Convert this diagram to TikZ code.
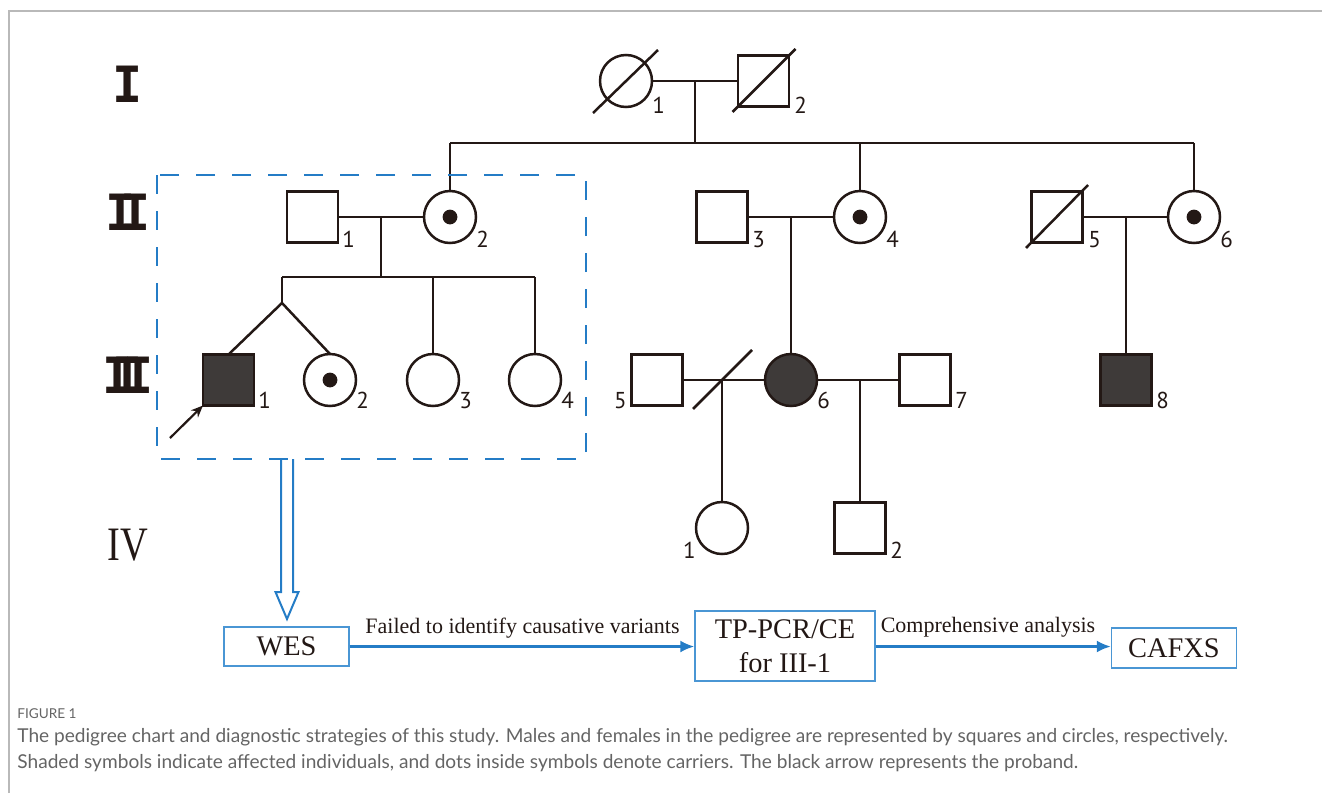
\documentclass[tikz,border=0pt]{standalone}
\usepackage{fontspec}
\setmainfont{Liberation Serif}
\newfontfamily\numfont{PT Sans}
\newfontfamily\genfont{DejaVu Sans Mono}
\newfontfamily\capfont{Lato}
\usetikzlibrary{arrows.meta}
\definecolor{pblack}{RGB}{35,24,21}
\definecolor{pfill}{RGB}{62,58,57}
\definecolor{pblue}{RGB}{36,124,198}
\definecolor{bblue}{RGB}{74,150,212}
\definecolor{capgray}{RGB}{100,100,100}
\definecolor{framegray}{RGB}{185,185,185}
\begin{document}
\begin{tikzpicture}[x=0.5pt,y=-0.5pt,
 ped/.style={draw=pblack,line width=1.25pt,inner sep=0pt,outer sep=0pt},
 male/.style={ped,rectangle,minimum size=25.5pt},
 female/.style={ped,circle,minimum size=26pt},
 aff/.style={fill=pfill},
 pline/.style={draw=pblack,line width=1.25pt},
 num/.style={font=\numfont\fontsize{11.5}{12}\selectfont,text=pblack,inner sep=0pt,anchor=base west},
 numl/.style={num,anchor=base east},
 gen/.style={font=\genfont\bfseries\fontsize{25}{26}\selectfont,text=pblack,inner sep=0pt,anchor=base},
 flowbox/.style={draw=bblue,line width=0.7pt,inner sep=0pt,font=\fontsize{14.2}{17}\selectfont,text=pblack,align=center},
 flowarrow/.style={draw=pblue,line width=1.2pt,-{Latex[length=7pt,width=6pt]}},
 flowlab/.style={font=\fontsize{11}{12}\selectfont,text=pblack,inner sep=0pt,anchor=base},
 capt/.style={font=\capfont\fontsize{9.55}{13}\selectfont,text=capgray,inner sep=0pt,anchor=base west},
]
\useasboundingbox (0,0) rectangle (1322,793);
\draw[framegray,line width=0.8pt] (9,793) -- (9,11) -- (1322,11);

% generation labels
\node[gen] (gI) at (128,102) {I};
\node[gen] (gII) at (128,230) {I\kern-0.3em I};
\node[gen] (gIII) at (128,393) {I\kern-0.4em I\kern-0.4em I};
\node[font=\fontsize{24}{24}\selectfont,text=pblack,inner sep=0pt,anchor=base,xscale=0.8] (gIV) at (128,560) {IV};

% generation I
\node[female] (I1) at (626,81) {};
\node[male] (I2) at (763.5,81) {};
\draw[pline] (I1) ++(-33,32) -- ++(65,-63);
\draw[pline] (I2) ++(-31,31) -- ++(63,-63);
\node[num] (nI1) at (652,113) {1};
\node[num] (nI2) at (794,113) {2};
\draw[pline] (I1.east) -- (I2.west);
\coordinate (m1) at (695,81);
\coordinate (s1) at (695,143);
\coordinate (s1L) at (450,143);
\coordinate (s1M) at (860,143);
\coordinate (s1R) at (1194,143);
\draw[pline] (m1) -- (s1);
\draw[pline] (s1L) -- (s1R);

% generation II
\node[male] (II1) at (312.5,217) {};
\node[female] (II2) at (450,217) {};
\node[male] (II3) at (722,217) {};
\node[female] (II4) at (860,217) {};
\node[male] (II5) at (1057,217) {};
\node[female] (II6) at (1194,217) {};
\fill[pblack] (II2) circle (3.7pt);
\fill[pblack] (II4) circle (3.7pt);
\fill[pblack] (II6) circle (3.7pt);
\draw[pline] (II5) ++(-31,31) -- ++(62,-63);
\draw[pline] (s1L) -- (II2.north);
\draw[pline] (s1M) -- (II4.north);
\draw[pline] (s1R) -- (II6.north);
\node[num] (nII1) at (342,247) {1};
\node[num] (nII2) at (476,247) {2};
\node[num] (nII3) at (752,247) {3};
\node[num] (nII4) at (886,247) {4};
\node[num] (nII5) at (1088,247) {5};
\node[num] (nII6) at (1220,247) {6};
\draw[pline] (II1.east) -- (II2.west);
\draw[pline] (II3.east) -- (II4.west);
\draw[pline] (II5.east) -- (II6.west);

% generation III
\node[male,aff] (III1) at (228.5,380) {};
\node[female] (III2) at (330,380) {};
\node[female] (III3) at (433,380) {};
\node[female] (III4) at (535,380) {};
\node[male] (III5) at (657,380) {};
\node[female,aff] (III6) at (791,380) {};
\node[male] (III7) at (925,380) {};
\node[male,aff] (III8) at (1126,380) {};
\fill[pblack] (III2) circle (3.7pt);
\node[num] (nIII1) at (258,408) {1};
\node[num] (nIII2) at (356,408) {2};
\node[num] (nIII3) at (459,408) {3};
\node[num] (nIII4) at (561,408) {4};
\node[numl] (nIII5) at (627,408) {5};
\node[num] (nIII6) at (817,408) {6};
\node[num] (nIII7) at (955,408) {7};
\node[num] (nIII8) at (1156,408) {8};

% family II-1 x II-2
\coordinate (m2) at (381,217);
\coordinate (s2) at (381,277);
\coordinate (s2L) at (282,277);
\coordinate (s2R) at (535,277);
\coordinate (tw) at (282,303);
\draw[pline] (m2) -- (s2);
\draw[pline] (s2L) -- (s2R);
\draw[pline] (s2L) -- (tw);
\draw[pline] (tw) -- (III1.north);
\draw[pline] (tw) -- (III2.north);
\draw[pline] (433,277) coordinate (s2c) -- (III3.north);
\draw[pline] (s2R) -- (III4.north);

% proband arrow
\coordinate (pa) at (170,438);
\draw[pblack,line width=1.1pt,-{Stealth[length=6pt,width=5pt]}] (pa) -- (III1.south west);

% family II-3 x II-4
\coordinate (m3) at (791,217);
\draw[pline] (m3) -- (III6.north);
% family II-5 x II-6
\coordinate (m4) at (1126,217);
\draw[pline] (m4) -- (III8.north);

% generation IV
\node[female] (IV1) at (722,528) {};
\node[male] (IV2) at (860,528) {};
\node[numl] (nIV1) at (696,558) {1};
\node[num] (nIV2) at (890,558) {2};
\draw[pline] (III5.east) -- (III6.west);
\draw[pline] (III6.east) -- (III7.west);
\draw[pline] (693,409) -- (752,350);
\coordinate (m5) at (722,380);
\coordinate (m6) at (860,380);
\draw[pline] (m5) -- (IV1.north);
\draw[pline] (m6) -- (IV2.north);

% dashed box
\draw[pblue,line width=1pt,dash pattern=on 9.5pt off 8.5pt] (157,175) rectangle (586,459);

% hollow arrow
\draw[pblue,line width=1pt,line join=miter] (281,459) -- (281,592) -- (275.5,592) -- (287,619) -- (298.5,592) -- (293,592) -- (293,459);

% flow
\node[flowbox,minimum width=62.5pt,minimum height=19.5pt] (wes) at (286.5,646.5) {WES};
\node[flowbox,minimum width=90pt,minimum height=35pt] (tp) at (785,646) {TP-PCR/CE\\for III-1};
\node[flowbox,minimum width=62.5pt,minimum height=20pt] (caf) at (1174,648) {CAFXS};
\draw[flowarrow] (wes.east) -- (tp.west |- wes.east);
\draw[flowarrow] (tp.east |- wes.east) -- (caf.west |- wes.east);
\node[flowlab] (l1) at (522.5,633) {Failed to identify causative variants};
\node[flowlab] (l2) at (988,632.5) {Comprehensive analysis};

% caption
\node[capt,font=\capfont\fontsize{6.8}{8}\selectfont] (figl) at (17,718) {FIGURE 1};
\node[capt] (c1) at (17,742) {The pedigree chart and diagnostic strategies of this study. Males and females in the pedigree are represented by squares and circles, respectively.};
\node[capt] (c2) at (17,768) {Shaded symbols indicate affected individuals, and dots inside symbols denote carriers. The black arrow represents the proband.};
\end{tikzpicture}
\end{document}
